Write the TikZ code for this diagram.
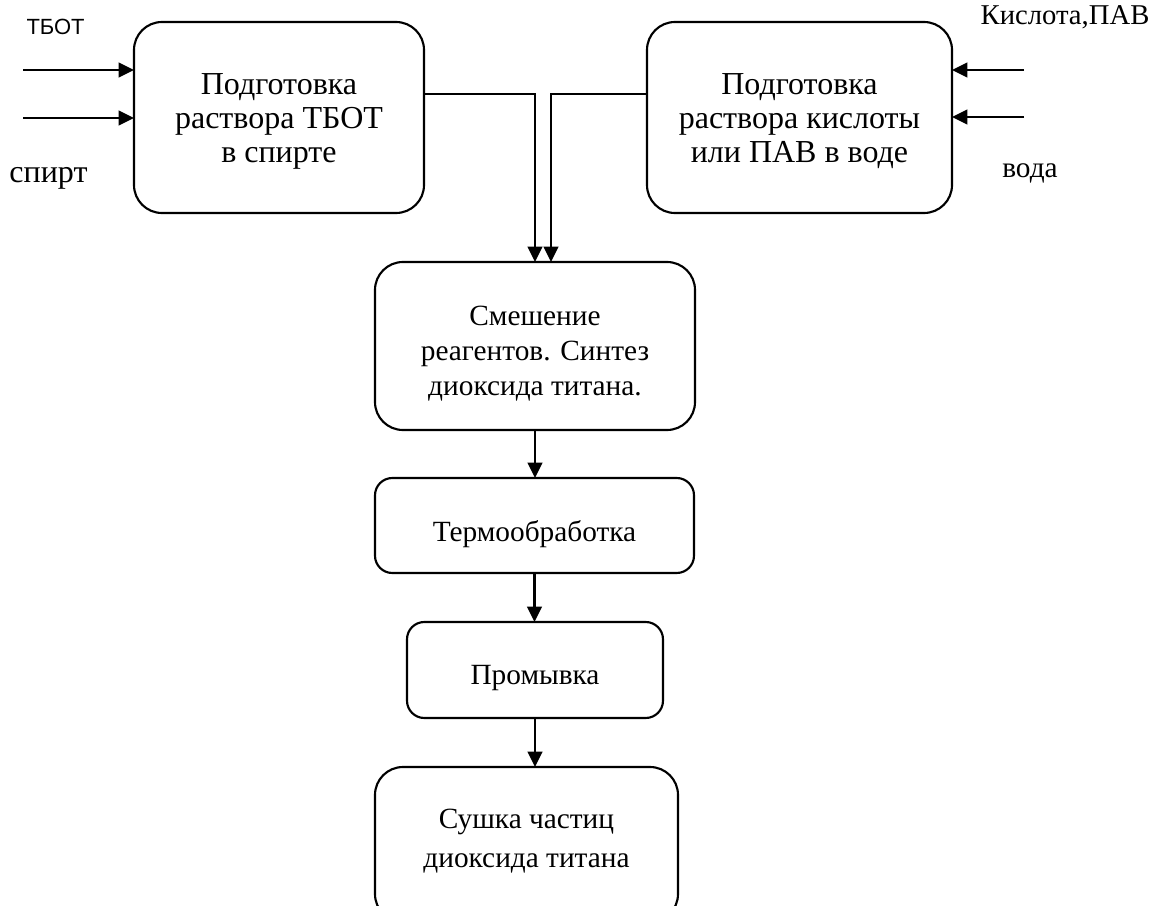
\documentclass[tikz,border=0pt]{standalone}
\usepackage{fontspec}
\setmainfont{Liberation Serif}
\newfontfamily\labelsans{Liberation Sans}
\usetikzlibrary{arrows.meta,calc}

\newcommand{\padtop}[1]{\rule{0pt}{#1}}
\newcommand{\padbot}[1]{\rule[-#1]{0pt}{#1}}

\tikzset{every picture/.style={line width=0.75pt}}
\tikzset{
  stage/.style={draw, line width=1.6pt, rounded corners=21pt, align=center, inner sep=0pt, outer sep=0pt, font=\fontsize{22}{26.25}\selectfont},
  bigstage/.style={stage, font=\fontsize{24}{25.5}\selectfont},
  smallstage/.style={stage, rounded corners=13pt},
  feed/.style={line width=1.75pt, -{Triangle[length=11.5pt,width=11pt]}},
  caption/.style={anchor=base, inner sep=0pt, font=\fontsize{22}{26}\selectfont}
}

\begin{document}
\begin{tikzpicture}[x=0.75pt,y=0.75pt,yscale=-1,xscale=1]
\useasboundingbox (0,0) rectangle (1161,906);
\clip (0,0) rectangle (1161,906);

%Rounded Rect (TBOT solution)
\draw (279,117.5) node [bigstage, minimum width=217.5pt, minimum height=143.25pt] (tbot) {\padtop{21pt}Подготовка\\раствора ТБОТ\\в спирте};
%Rounded Rect (acid solution)
\draw (799.5,117.5) node [bigstage, minimum width=228.75pt, minimum height=143.25pt] (acid) {\padtop{21pt}Подготовка\\раствора кислоты\\или ПАВ в воде};
%Rounded Rect (mixing)
\draw (535,346) node [stage, minimum width=240pt, minimum height=126pt] (mix) {\padtop{25.5pt}Смешение\\реагентов. Синтез\\диоксида титана.};
%Rounded Rect (heating)
\draw (534.5,525.5) node [smallstage, minimum width=239.25pt, minimum height=71.25pt] (heat) {\padtop{28.5pt}Термообработка};
%Rounded Rect (washing)
\draw (535,670) node [smallstage, minimum width=192pt, minimum height=72pt] (wash) {\padtop{26.5pt}Промывка};
%Rounded Rect (drying)
\draw (526.5,844.5) node [stage, font=\fontsize{22}{29.25}\selectfont, minimum width=227.25pt, minimum height=116.25pt] (dry) {Сушка частиц\\диоксида титана\padbot{10pt}};

%Straight Lines (inputs)
\coordinate (tbotin) at (23,70);
\coordinate (spirtin) at (23,118);
\coordinate (acidin) at (1024,70);
\coordinate (waterin) at (1024,117);
\draw [feed] (tbotin) -- (tbotin -| tbot.west);
\draw [feed] (spirtin) -- (spirtin -| tbot.west);
\draw [feed] (acidin) -- (acidin -| acid.east);
\draw [feed] (waterin) -- (waterin -| acid.east);

%Straight Lines (to mixing)
\draw [feed] ($(tbot.east)+(0,-23.5)$) -| (mix.north);
\draw [feed] ($(acid.west)+(0,-23.5)$) -| ($(mix.north)+(16,0)$);

%Straight Lines (chain)
\draw [feed] (mix.south) -- (mix.south |- heat.north);
\draw [feed] (heat.south) -- (heat.south |- wash.north);
\draw [feed] (wash.south) -- (wash.south |- dry.north);

% Text Node
\draw (26,35) node [caption, anchor=base west, font=\labelsans\fontsize{16.5}{20}\selectfont] (tbotlbl) {ТБОТ};
% Text Node
\draw (48.5,182) node [caption, font=\fontsize{24}{28}\selectfont] (spirtlbl) {спирт};
% Text Node
\draw (1065,25) node [caption, font=\fontsize{21.5}{26}\selectfont] (acidlbl) {Кислота,ПАВ};
% Text Node
\draw (1030,177) node [caption] (waterlbl) {вода};

\end{tikzpicture}
\end{document}
